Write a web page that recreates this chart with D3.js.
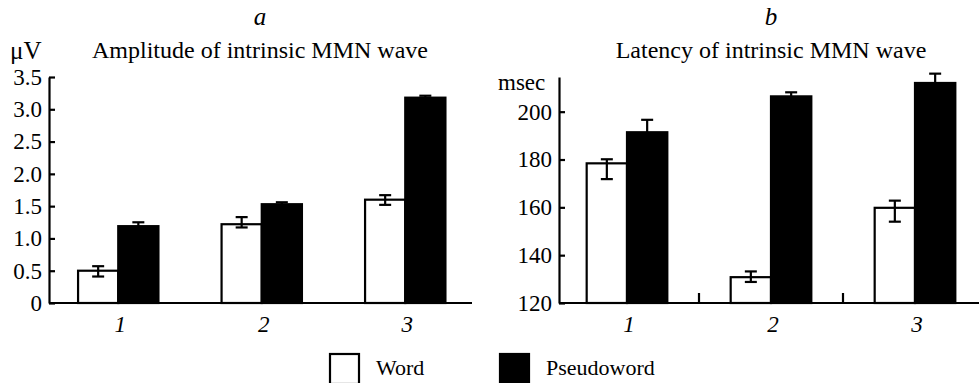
<!DOCTYPE html>
<html>
<head>
<meta charset="utf-8">
<script src="https://cdnjs.cloudflare.com/ajax/libs/d3/7.8.5/d3.min.js"></script>
<style>
  body { margin: 0; background: #fff; }
  svg { display: block; }
</style>
</head>
<body>
<div id="chart"></div>
<script>
// ---- data ----
var groups = ["1", "2", "3"];
var seriesNames = ["Word", "Pseudoword"];

// panel a : amplitude (µV)
var ampWord = [0.50, 1.22, 1.60];
var ampWordLow = [0.41, 1.17, 1.52];
var ampWordHigh = [0.57, 1.33, 1.67];
var ampPseudo = [1.19, 1.53, 3.18];
var ampPseudoHigh = [1.25, 1.56, 3.21];
var ampTicks = [0, 0.5, 1.0, 1.5, 2.0, 2.5, 3.0, 3.5];

// panel b : latency (msec)
var latWord = [178.4, 130.8, 159.8];
var latWordLow = [171.8, 128.8, 154.0];
var latWordHigh = [180.1, 133.2, 162.8];
var latPseudo = [191.4, 206.4, 212.0];
var latPseudoHigh = [196.6, 208.1, 215.9];
var latTicks = [120, 140, 160, 180, 200];

var W = 979, H = 383;
var FONT = "'Liberation Serif', 'Times New Roman', serif";
var SW = 2.2;

var svg = d3.select("#chart").append("svg")
  .attr("width", W)
  .attr("height", H);

svg.append("rect").attr("width", W).attr("height", H).attr("fill", "white");

function drawPanel(p) {
  var g = svg.append("g");

  var x = d3.scaleBand().domain(groups).range(p.xRange)
    .paddingInner(0.44).paddingOuter(0.22);
  var xs = d3.scaleBand().domain(seriesNames).range([0, x.bandwidth()]);
  var y = d3.scaleLinear().domain(p.yDomain).range([303, 77]);

  // bars
  groups.forEach(function (grp, i) {
    var bx = x(grp);
    g.append("rect")
      .attr("x", bx + xs("Word"))
      .attr("y", y(p.word[i]))
      .attr("width", xs.bandwidth())
      .attr("height", y(p.yDomain[0]) - y(p.word[i]))
      .attr("fill", "white")
      .attr("stroke", "black")
      .attr("stroke-width", SW);
    g.append("rect")
      .attr("x", bx + xs("Pseudoword"))
      .attr("y", y(p.pseudo[i]))
      .attr("width", xs.bandwidth())
      .attr("height", y(p.yDomain[0]) - y(p.pseudo[i]))
      .attr("fill", "black")
      .attr("stroke", "black")
      .attr("stroke-width", SW);

    // error bars
    var cw = bx + xs("Word") + xs.bandwidth() / 2;
    g.append("line").attr("x1", cw).attr("x2", cw)
      .attr("y1", y(p.wordLow[i])).attr("y2", y(p.wordHigh[i]));
    g.append("line").attr("x1", cw - 6).attr("x2", cw + 6)
      .attr("y1", y(p.wordLow[i])).attr("y2", y(p.wordLow[i]));
    g.append("line").attr("x1", cw - 6).attr("x2", cw + 6)
      .attr("y1", y(p.wordHigh[i])).attr("y2", y(p.wordHigh[i]));

    var cp = bx + xs("Pseudoword") + xs.bandwidth() / 2;
    g.append("line").attr("x1", cp).attr("x2", cp)
      .attr("y1", y(p.pseudo[i])).attr("y2", y(p.pseudoHigh[i]));
    g.append("line").attr("x1", cp - 6).attr("x2", cp + 6)
      .attr("y1", y(p.pseudoHigh[i])).attr("y2", y(p.pseudoHigh[i]));
  });
  g.selectAll("line").attr("stroke", "black").attr("stroke-width", SW);

  // y axis, ticks pointing inward
  var yAxis = d3.axisLeft(y)
    .tickValues(p.ticks)
    .tickFormat(p.fmt)
    .tickSizeInner(-6)
    .tickSizeOuter(0)
    .tickPadding(7);
  var ya = g.append("g")
    .attr("transform", "translate(" + p.axisX + ",0)")
    .call(yAxis);
  ya.attr("font-family", FONT).attr("font-size", 23);
  ya.selectAll("text").attr("fill", "black");
  ya.selectAll("line, path").attr("stroke", "black").attr("stroke-width", SW);

  // x axis line
  g.append("line")
    .attr("x1", p.axisX).attr("x2", p.xEnd)
    .attr("y1", 303).attr("y2", 303)
    .attr("stroke", "black").attr("stroke-width", SW);

  // small separator ticks between groups
  if (p.sepTicks) {
    groups.slice(1).forEach(function (grp) {
      var sx = x(grp) - x.step() * x.paddingInner() / 2;
      g.append("line")
        .attr("x1", sx).attr("x2", sx)
        .attr("y1", 303).attr("y2", 293)
        .attr("stroke", "black").attr("stroke-width", SW);
    });
  }

  // category labels
  g.selectAll(".cat").data(groups).enter().append("text")
    .attr("class", "cat")
    .attr("x", function (d) { return x(d) + x.bandwidth() / 2 + 2; })
    .attr("y", 332)
    .attr("text-anchor", "middle")
    .attr("font-family", FONT)
    .attr("font-style", "italic")
    .attr("font-size", 23)
    .text(function (d) { return d; });

  // titles
  g.append("text")
    .attr("x", p.titleX).attr("y", 25)
    .attr("text-anchor", "middle")
    .attr("font-family", FONT).attr("font-style", "italic").attr("font-size", 25)
    .text(p.letter);
  g.append("text")
    .attr("x", p.titleX).attr("y", 58)
    .attr("text-anchor", "middle")
    .attr("font-family", FONT).attr("font-size", 24)
    .text(p.title);
  g.append("text")
    .attr("x", p.unitX).attr("y", p.unitY)
    .attr("font-family", FONT).attr("font-size", p.unitSize)
    .text(p.unit);
}

drawPanel({
  xRange: [46.5, 477], axisX: 49, xEnd: 472,
  yDomain: [0, 3.5], ticks: ampTicks,
  fmt: function (d) { return d === 0 ? "0" : d3.format(".1f")(d); },
  word: ampWord, wordLow: ampWordLow, wordHigh: ampWordHigh,
  pseudo: ampPseudo, pseudoHigh: ampPseudoHigh,
  letter: "a", title: "Amplitude of intrinsic MMN wave", titleX: 260,
  unit: "\u03bcV", unitX: 10, unitY: 59, unitSize: 25, sepTicks: false
});

drawPanel({
  xRange: [555, 987], axisX: 559, xEnd: 979,
  yDomain: [120, 214.5], ticks: latTicks,
  fmt: d3.format("d"),
  word: latWord, wordLow: latWordLow, wordHigh: latWordHigh,
  pseudo: latPseudo, pseudoHigh: latPseudoHigh,
  letter: "b", title: "Latency of intrinsic MMN wave", titleX: 771,
  unit: "msec", unitX: 498, unitY: 90, unitSize: 23, sepTicks: true
});

// legend
var legend = svg.append("g");
var legX = [330, 500];
seriesNames.forEach(function (name, i) {
  legend.append("rect")
    .attr("x", legX[i]).attr("y", 354)
    .attr("width", 29).attr("height", 30)
    .attr("fill", i === 0 ? "white" : "black")
    .attr("stroke", "black").attr("stroke-width", SW);
  legend.append("text")
    .attr("x", legX[i] + 46).attr("y", 375)
    .attr("font-family", FONT).attr("font-size", 22)
    .text(name);
});
</script>
</body>
</html>
